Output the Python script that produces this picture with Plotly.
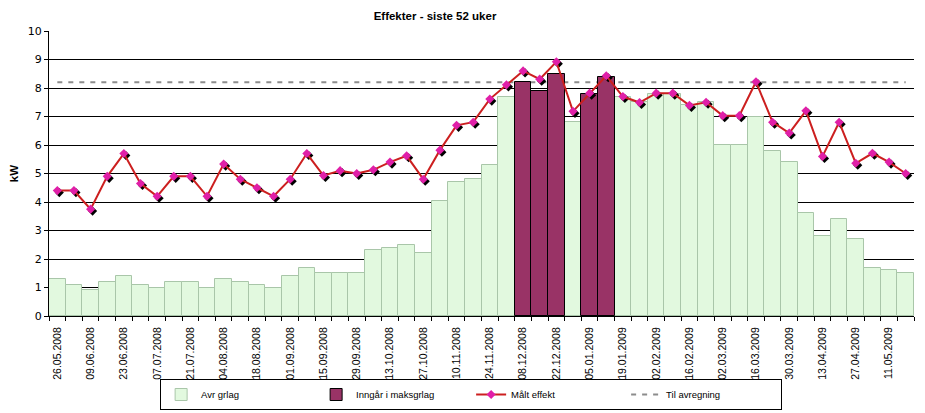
import plotly.graph_objects as go

# ---- data -------------------------------------------------------------
weeks = [
    "26.05.2008", "02.06.2008", "09.06.2008", "16.06.2008", "23.06.2008", "30.06.2008",
    "07.07.2008", "14.07.2008", "21.07.2008", "28.07.2008", "04.08.2008", "11.08.2008",
    "18.08.2008", "25.08.2008", "01.09.2008", "08.09.2008", "15.09.2008", "22.09.2008",
    "29.09.2008", "06.10.2008", "13.10.2008", "20.10.2008", "27.10.2008", "03.11.2008",
    "10.11.2008", "17.11.2008", "24.11.2008", "01.12.2008", "08.12.2008", "15.12.2008",
    "22.12.2008", "29.12.2008", "05.01.2009", "12.01.2009", "19.01.2009", "26.01.2009",
    "02.02.2009", "09.02.2009", "16.02.2009", "23.02.2009", "02.03.2009", "09.03.2009",
    "16.03.2009", "23.03.2009", "30.03.2009", "06.04.2009", "13.04.2009", "20.04.2009",
    "27.04.2009", "04.05.2009", "11.05.2009", "18.05.2009",
]

# Avr grlag (light bars); None where the week is part of the max basis
avr_grlag = [
    1.3, 1.1, 0.9, 1.2, 1.4, 1.1, 1.0, 1.2, 1.2, 1.0, 1.3, 1.2, 1.1, 1.0, 1.4, 1.7,
    1.5, 1.5, 1.5, 2.3, 2.4, 2.5, 2.2, 4.05, 4.7, 4.8, 5.3, 7.7, None, None, None, 6.8,
    None, None, 7.7, 7.5, 7.8, 7.8, 7.4, 7.5, 6.0, 6.0, 7.0, 5.8, 5.4, 3.6, 2.8, 3.4,
    2.7, 1.7, 1.6, 1.5,
]

# Inngår i maksgrlag (dark bars)
maks_grlag = [
    None, None, None, None, None, None, None, None, None, None, None, None, None, None,
    None, None, None, None, None, None, None, None, None, None, None, None, None, None,
    8.2, 7.9, 8.5, None, 7.8, 8.4, None, None, None, None, None, None, None, None, None,
    None, None, None, None, None, None, None, None, None,
]

# Målt effekt (line)
maalt_effekt = [
    4.4, 4.4, 3.75, 4.9, 5.7, 4.65, 4.2, 4.9, 4.9, 4.2, 5.33, 4.8, 4.5, 4.2, 4.8, 5.7,
    4.93, 5.1, 5.0, 5.13, 5.4, 5.62, 4.8, 5.82, 6.69, 6.8, 7.61, 8.11, 8.6, 8.31, 8.92,
    7.18, 7.82, 8.43, 7.7, 7.49, 7.82, 7.82, 7.39, 7.5, 7.03, 7.03, 8.22, 6.8, 6.42,
    7.2, 5.6, 6.8, 5.36, 5.71, 5.4, 5.0,
]

til_avregning = 8.2

tick_labels = weeks[::2]

# ---- figure -----------------------------------------------------------
x = list(range(len(weeks)))
n = len(weeks)
xr = [-0.5, n - 0.5]
yr = [0, 10]
dx, dy = 0.12, 0.07  # shadow offset in data units

FONT = "Liberation Sans, Arial, sans-serif"

fig = go.Figure()

# base subplot: dashed line (drawn beneath the bars)
fig.add_trace(go.Scatter(
    x=x, y=[til_avregning] * n, mode="lines", name="Til avregning",
    line=dict(color="#8C8C8C", width=2, dash="5px,6px"), legendrank=4,
    hoverinfo="skip",
))

# bars on overlay subplot 2
fig.add_trace(go.Bar(
    x=x, y=avr_grlag, name="Avr grlag", xaxis="x2", yaxis="y2",
    marker=dict(color="#E2F9DF", line=dict(color="#A9C6A9", width=1)),
    legendrank=1,
))
fig.add_trace(go.Bar(
    x=x, y=maks_grlag, name="Inngår i maksgrlag", xaxis="x2", yaxis="y2",
    marker=dict(color="#993366", line=dict(color="#000000", width=1)),
    legendrank=2,
))

# marker shadow on shifted overlay subplot 3
fig.add_trace(go.Scatter(
    x=x, y=maalt_effekt, mode="markers", xaxis="x3", yaxis="y3",
    marker=dict(symbol="diamond", size=7, color="#000000"),
    showlegend=False, hoverinfo="skip",
))

# measured line on overlay subplot 4
fig.add_trace(go.Scatter(
    x=x, y=maalt_effekt, mode="lines+markers", name="Målt effekt",
    xaxis="x4", yaxis="y4",
    line=dict(color="#CC1F1F", width=2),
    marker=dict(symbol="diamond", size=7, color="#E01FA8"),
    legendrank=3,
))

hidden = dict(visible=False, showgrid=False, zeroline=False, fixedrange=True)

fig.update_layout(
    width=925, height=413,
    margin=dict(l=49, r=11, t=31, b=97, autoexpand=False),
    paper_bgcolor="white", plot_bgcolor="white",
    barmode="overlay", bargap=0,
    font=dict(family=FONT, color="black"),
    title=dict(
        text="<b>Effekter - siste 52 uker</b>",
        x=435 / 925, xanchor="center", xref="container",
        y=1 - 16 / 413, yanchor="middle", yref="container",
        font=dict(family=FONT, size=11.5, color="black"),
    ),
    xaxis=dict(
        range=xr, tickmode="array", tickvals=x[::2], ticktext=tick_labels,
        tickangle=-90, ticks="", showgrid=False, zeroline=False,
        showline=True, linecolor="black", linewidth=1, automargin=False,
        ticklabelstandoff=6,
        tickfont=dict(family=FONT, size=10.5, color="black"),
        minor=dict(tickmode="linear", tick0=-0.5, dtick=1, ticks="outside",
                   ticklen=4, tickcolor="black", showgrid=False),
        fixedrange=True,
    ),
    yaxis=dict(
        range=yr, tickmode="linear", tick0=0, dtick=1,
        showgrid=True, gridcolor="black", gridwidth=1, zeroline=False,
        showline=True, linecolor="black", linewidth=1, automargin=False,
        ticks="outside", ticklen=4, tickcolor="black",
        tickfont=dict(family="DejaVu Sans", size=11, color="black"),
        title=dict(text="<b>kW</b>", standoff=6,
                   font=dict(family=FONT, size=11.5, color="black")),
        fixedrange=True,
    ),
    xaxis2=dict(overlaying="x", anchor="y2", range=xr, **hidden),
    yaxis2=dict(overlaying="y", anchor="x2", range=yr, **hidden),
    xaxis3=dict(overlaying="x", anchor="y3", range=[xr[0] - dx, xr[1] - dx], **hidden),
    yaxis3=dict(overlaying="y", anchor="x3", range=[yr[0] + dy, yr[1] + dy], **hidden),
    xaxis4=dict(overlaying="x", anchor="y4", range=xr, **hidden),
    yaxis4=dict(overlaying="y", anchor="x4", range=yr, **hidden),
    legend=dict(
        orientation="h", x=0.488, xanchor="center",
        y=3 / 413, yanchor="bottom", yref="container",
        bordercolor="black", borderwidth=1, bgcolor="white",
        font=dict(family=FONT, size=9.5, color="black"),
        entrywidth=110, entrywidthmode="pixels",
        traceorder="normal", tracegroupgap=0,
    ),
    showlegend=True,
)

fig.write_html("out.html")
